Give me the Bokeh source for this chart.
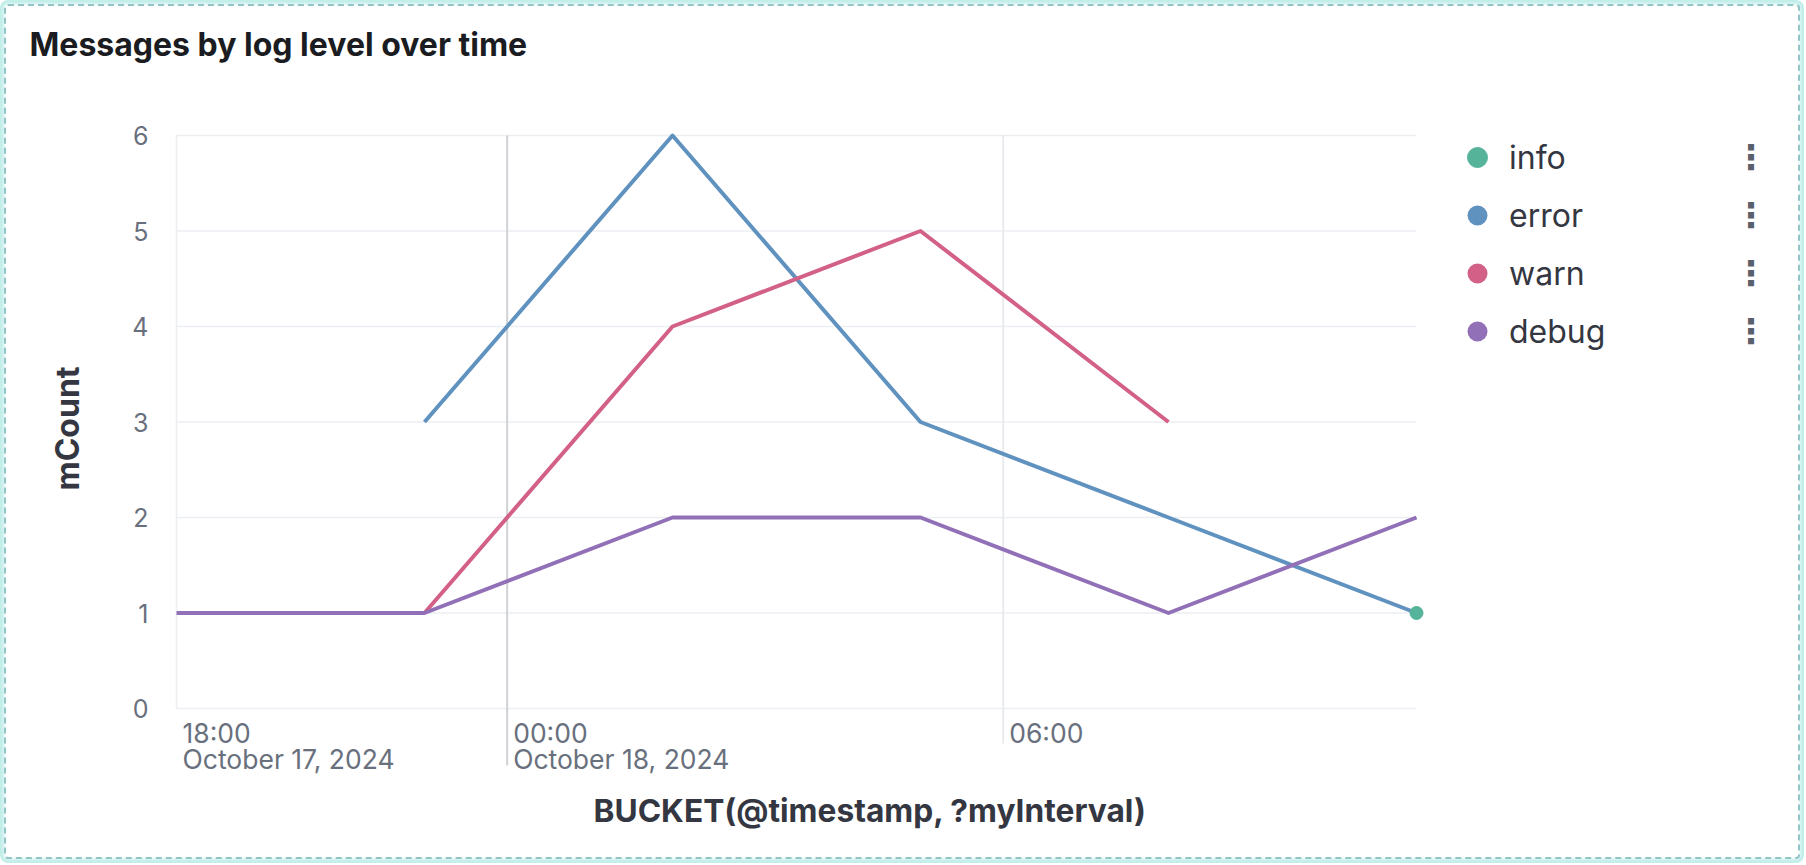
from datetime import datetime, timedelta

from bokeh.core.properties import value
from bokeh.embed import file_html
from bokeh.models import ColumnDataSource, FixedTicker, Legend, LegendItem, Range1d, Title
from bokeh.plotting import figure
from bokeh.resources import INLINE

# ---------------- data ----------------
bucket_times = ["2024-10-17 20:00", "2024-10-17 23:00", "2024-10-18 02:00",
                "2024-10-18 05:00", "2024-10-18 08:00", "2024-10-18 11:00"]

info_times = ["2024-10-18 11:00"]
info_counts = [1]

error_times = ["2024-10-17 23:00", "2024-10-18 02:00", "2024-10-18 05:00",
               "2024-10-18 08:00", "2024-10-18 11:00"]
error_counts = [3, 6, 3, 2, 1]

warn_times = ["2024-10-17 23:00", "2024-10-18 02:00", "2024-10-18 05:00",
              "2024-10-18 08:00"]
warn_counts = [1, 4, 5, 3]

debug_times = ["2024-10-17 20:00", "2024-10-17 23:00", "2024-10-18 02:00",
               "2024-10-18 05:00", "2024-10-18 08:00", "2024-10-18 11:00"]
debug_counts = [1, 1, 2, 2, 1, 2]

series_names = ["info", "error", "warn", "debug"]
series_colors = ["#54B399", "#6092C0", "#D36086", "#9170B8"]

y_ticks = [0, 1, 2, 3, 4, 5, 6]
x_tick_times = ["2024-10-17 20:00", "2024-10-18 00:00", "2024-10-18 06:00"]
x_tick_labels = ["18:00", "00:00", "06:00"]
x_date_times = ["2024-10-17 20:00", "2024-10-18 00:00"]
x_date_labels = ["October 17, 2024", "October 18, 2024"]
day_boundary = ["2024-10-18 00:00"]
minor_boundary = ["2024-10-18 06:00"]


def dt(s):
    return datetime.strptime(s, "%Y-%m-%d %H:%M")


def dts(lst):
    return [dt(s) for s in lst]


# ---------------- layout constants (pixels) ----------------
W, H = 1804, 863
FRAME_LEFT, FRAME_TOP, FRAME_BOTTOM = 166, 76, 780
FRAME_RIGHT = W
PX_PER_HOUR = 248 / 3.0
PX_PER_UNIT = 95.5
ZERO_Y = 708            # canvas y of value 0
LEFT_PAD_PX = 10        # frame left -> first bucket

t_first = dt(bucket_times[0])
t_last = dt(bucket_times[-1])
x_start = t_first - timedelta(hours=LEFT_PAD_PX / PX_PER_HOUR)
x_end = x_start + timedelta(hours=(FRAME_RIGHT - FRAME_LEFT) / PX_PER_HOUR)
y_end = (ZERO_Y - FRAME_TOP) / PX_PER_UNIT
y_start = -(FRAME_BOTTOM - ZERO_Y) / PX_PER_UNIT

p = figure(
    width=W, height=H,
    x_axis_type="datetime", x_axis_location=None,
    x_range=Range1d(x_start, x_end),
    y_range=Range1d(y_start, y_end),
    output_backend="svg",
    toolbar_location=None,
    min_border_left=FRAME_LEFT, min_border_right=0,
    min_border_top=FRAME_TOP, min_border_bottom=H - FRAME_BOTTOM,
    background_fill_color=None, border_fill_color=None,
)
p.outline_line_color = None
p.grid.visible = False
p.styles = {
    "background": "white",
    "outline": "2px dashed #93c4c6",
    "outline-offset": "-6px",
    "box-shadow": "inset 0 0 3px 4px #c2eeea",
    "border-radius": "8px",
}

# ---------------- title ----------------
p.title.text = "Messages by log level over time"
p.title.text_font = "Inter"
p.title.text_font_style = "bold"
p.title.text_font_size = "32px"
p.title.text_color = "#1a1c21"
p.title.align = "left"
p.title.offset = 29 - FRAME_LEFT
p.title.standoff = 26

# ---------------- y axis ----------------
ya = p.yaxis[0]
ya.ticker = FixedTicker(ticks=y_ticks)
ya.bounds = (y_ticks[0], y_ticks[-1])
ya.axis_line_color = None
ya.major_tick_line_color = None
ya.minor_tick_line_color = None
ya.major_tick_out = 0
ya.major_tick_in = 0
ya.major_label_standoff = 18
ya.major_label_text_font = "Inter"
ya.major_label_text_font_size = "25px"
ya.major_label_text_color = "#69707D"
ya.axis_label = "mCount"
ya.axis_label_text_font = "Inter"
ya.axis_label_text_font_style = "bold"
ya.axis_label_text_font_size = "32px"
ya.axis_label_text_color = "#343741"
ya.axis_label_standoff = 42

# x axis title (placed under the chart, centred on plot + legend area as in the reference)
x_title = Title(
    text="BUCKET(@timestamp, ?myInterval)", align="left", vertical_align="top",
    offset=427, standoff=20,
    text_font="Inter", text_font_style="bold", text_font_size="31.7px",
    text_color="#343741",
)
p.add_layout(x_title, "below")

# ---------------- grid ----------------
grid_src = ColumnDataSource(dict(
    x0=[t_first] * len(y_ticks), x1=[t_last] * len(y_ticks), y=y_ticks))
p.segment(x0="x0", x1="x1", y0="y", y1="y", source=grid_src,
          line_color="#ECEEF2", line_width=1.6, level="underlay")
p.segment(x0=[t_first], x1=[t_first], y0=[y_ticks[0]], y1=[y_ticks[-1]],
          line_color="#ECEEF2", line_width=1.6, level="underlay")
p.segment(x0=dts(day_boundary), x1=dts(day_boundary),
          y0=[-57 / PX_PER_UNIT], y1=[y_ticks[-1]],
          line_color="#D0D2D6", line_width=2, level="underlay")
p.segment(x0=dts(minor_boundary), x1=dts(minor_boundary),
          y0=[-35 / PX_PER_UNIT], y1=[y_ticks[-1]],
          line_color="#E6E8EC", line_width=1.6, level="underlay")

# x tick labels (left aligned at the tick, as in the reference)
p.text(x=dts(x_tick_times), y=[0] * len(x_tick_times), text=x_tick_labels,
       x_offset=6, y_offset=24, text_align="left", text_baseline="alphabetic",
       text_font=value("Inter"), text_font_size="26.5px", text_color="#69707D")
p.text(x=dts(x_date_times), y=[0] * len(x_date_times), text=x_date_labels,
       x_offset=6, y_offset=50, text_align="left", text_baseline="alphabetic",
       text_font=value("Inter"), text_font_size="26.5px", text_color="#69707D")

# ---------------- series ----------------
series = {
    "error": (error_times, error_counts),
    "warn": (warn_times, warn_counts),
    "debug": (debug_times, debug_counts),
}
legend_renderers = {}
for name, color in zip(series_names, series_colors):
    if name == "info":
        continue
    xs, ys = series[name]
    p.line(dts(xs), ys, line_color=color, line_width=4, line_join="round")
    # invisible markers, only used to draw the round legend swatch
    legend_renderers[name] = p.scatter(dts(xs), ys, size=0, fill_color=color,
                                       line_color=color, line_alpha=0)

info_r = p.scatter(dts(info_times), info_counts, size=13,
                   fill_color=series_colors[0], line_color=series_colors[0])
legend_renderers["info"] = info_r

# ---------------- legend ----------------
items = [LegendItem(label=n, renderers=[legend_renderers[n]]) for n in series_names]
legend = Legend(
    items=items, location=(1286, 424),
    glyph_width=50, glyph_height=50, label_standoff=7, spacing=8,
    padding=0, margin=0, border_line_color=None, background_fill_alpha=0,
    label_text_font="Inter", label_text_font_size="32px",
    label_text_color="#343741",
)
p.add_layout(legend)

menu_items = [LegendItem(label="\u22ee", renderers=[legend_renderers[n]]) for n in series_names]
menu = Legend(
    items=menu_items, location=(1568, 424),
    glyph_width=0, glyph_height=50, label_standoff=0, spacing=8,
    padding=0, margin=0, border_line_color=None, background_fill_alpha=0,
    label_text_font="DejaVu Sans", label_text_font_style="bold",
    label_text_font_size="34px", label_text_color="#5a606b",
)
p.add_layout(menu)

open("out.html", "w").write(file_html(p, INLINE))
